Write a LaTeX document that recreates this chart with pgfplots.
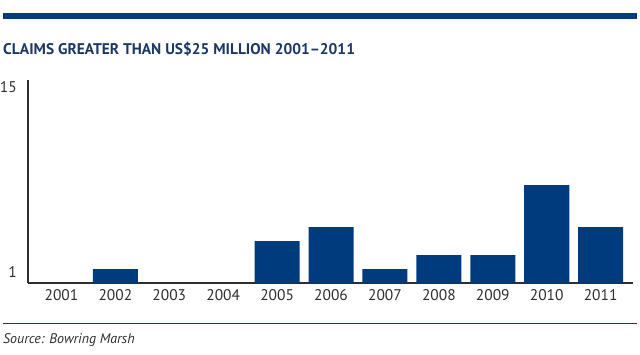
\documentclass[border=0pt]{standalone}
\usepackage{pgfplots}
\pgfplotsset{compat=1.18}
\usepackage{fontspec}
\setmainfont{PT Sans}
\definecolor{navy}{HTML}{003B7E}
\definecolor{titleblue}{HTML}{1B3766}
\definecolor{axgray}{HTML}{2E2E2E}
\begin{document}
\begin{tikzpicture}[x=1bp,y=1bp]
\path[use as bounding box] (0,0) rectangle (640,354);
\fill[navy] (3,334.7) rectangle (637,340.7);
\node[anchor=base west, inner sep=0pt, text=titleblue, font=\fontsize{15.5}{18}\selectfont\bfseries] at (3,300) {CLAIMS GREATER THAN US\$25 MILLION 2001--2011};
\begin{axis}[
  at={(28bp,71bp)}, anchor=south west, scale only axis,
  width=605bp, height=203bp,
  xmin=-0.62, xmax=10.6, ymin=1, ymax=15.5,
  axis lines*=left,
  axis line style={-, draw=axgray, line width=1.8bp},
  major tick length=0pt,
  xtick={0,...,10},
  xticklabels={2001,2002,2003,2004,2005,2006,2007,2008,2009,2010,2011},
  xticklabel style={anchor=north, inner sep=0pt, yshift=-6bp, text=axgray, font=\fontsize{15.5}{18}\selectfont},
  ytick={15}, yticklabels={15},
  extra y ticks={1}, extra y tick labels={1},
  extra y tick style={yticklabel style={yshift=11bp}},
  yticklabel style={anchor=east, inner sep=0pt, xshift=-11bp, text=axgray, font=\fontsize{15.5}{18}\selectfont},
  ybar, bar width=0.835, bar shift=0pt,
]
\addplot[fill=navy, draw=none] coordinates {
 (0,1) (1,2) (2,1) (3,1) (4,4) (5,5) (6,2) (7,3) (8,3) (9,8) (10,5)};
\end{axis}
\draw[navy, line width=1.5bp] (3,30.7) -- (637,30.7);
\node[anchor=base west, inner sep=0pt, font=\fontsize{14}{16}\selectfont\itshape, text=axgray] at (3,10.7) {Source: Bowring Marsh};
\end{tikzpicture}
\end{document}
